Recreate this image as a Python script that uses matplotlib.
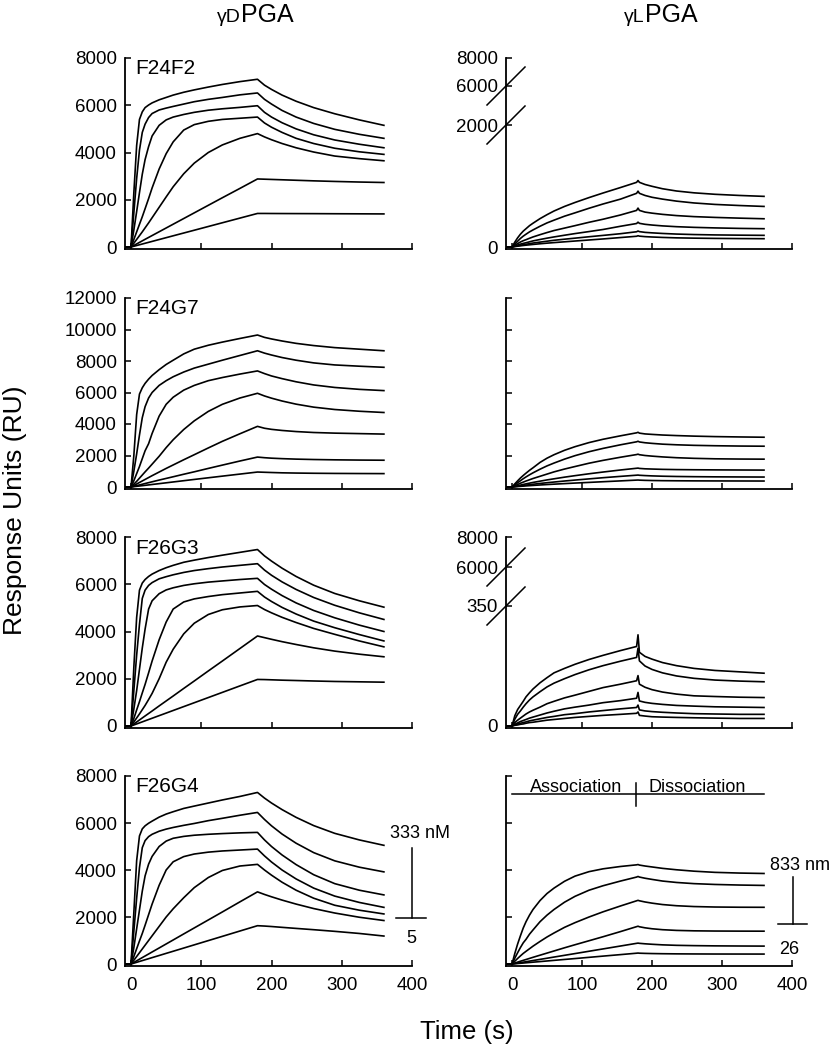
import numpy as np
import matplotlib
matplotlib.use('Agg')
import matplotlib.pyplot as plt

plt.rcParams['font.family'] = ['Liberation Sans', 'DejaVu Sans']

# time points (s)
t_d = [-8, 0, 4, 8, 12, 16, 20, 25, 30, 40, 50, 60, 75, 90, 110, 130, 155, 180,
       190, 200, 215, 235, 260, 290, 325, 360]
t_l = [-8, 0, 4, 8, 12, 16, 20, 25, 30, 40, 50, 60, 75, 90, 110, 130, 155, 178, 180, 182,
       190, 200, 215, 235, 260, 290, 325, 360]

# gamma-D PGA, one list per concentration (RU)
f24f2_d = [
    [0, 0, 2300, 4300, 5400, 5720, 5900, 6010, 6100, 6230, 6330, 6430, 6550, 6650, 6770, 6880, 7000, 7100,
     6850, 6670, 6430, 6170, 5900, 5640, 5380, 5150],
    [0, 0, 1450, 2900, 4100, 4850, 5200, 5480, 5650, 5800, 5880, 5950, 6050, 6150, 6250, 6330, 6440, 6520,
     6250, 6050, 5780, 5500, 5230, 4980, 4770, 4600],
    [0, 0, 720, 1500, 2300, 3080, 3700, 4250, 4700, 5150, 5380, 5500, 5610, 5700, 5790, 5850, 5910, 5980,
     5700, 5500, 5260, 5000, 4750, 4530, 4350, 4200],
    [0, 0, 320, 640, 960, 1280, 1620, 2050, 2500, 3300, 3950, 4450, 4950, 5180, 5320, 5400, 5450, 5500,
     5250, 5070, 4850, 4600, 4380, 4180, 4030, 3920],
    [0, 0, 160, 320, 480, 640, 810, 1020, 1240, 1680, 2120, 2550, 3100, 3550, 4000, 4320, 4600, 4800,
     4660, 4540, 4380, 4200, 4020, 3850, 3740, 3650],
    [0, 0, 65, 130, 195, 260, 325, 405, 485, 645, 805, 965, 1205, 1445, 1765, 2085, 2480, 2880,
     2870, 2860, 2845, 2825, 2800, 2775, 2750, 2730],
    [0, 0, 32, 63, 95, 126, 158, 197, 237, 316, 395, 474, 592, 710, 868, 1026, 1223, 1420,
     1420, 1418, 1416, 1414, 1412, 1408, 1404, 1400],
]
f24g7_d = [
    [0, 0, 2000, 4600, 5900, 6300, 6580, 6850, 7080, 7450, 7780, 8050, 8450, 8750, 9000, 9200, 9430, 9650,
     9500, 9400, 9270, 9120, 8980, 8850, 8750, 8650],
    [0, 0, 1000, 2100, 3300, 4400, 5100, 5650, 6000, 6450, 6750, 7000, 7300, 7550, 7800, 8050, 8350, 8650,
     8500, 8380, 8220, 8050, 7880, 7750, 7670, 7600],
    [0, 0, 400, 850, 1300, 1800, 2300, 2750, 3400, 4500, 5250, 5700, 6150, 6450, 6750, 6950, 7170, 7370,
     7200, 7050, 6880, 6680, 6480, 6320, 6200, 6120],
    [0, 0, 180, 360, 560, 760, 960, 1200, 1450, 1950, 2500, 3000, 3650, 4200, 4800, 5250, 5650, 5950,
     5780, 5640, 5460, 5260, 5070, 4920, 4810, 4730],
    [0, 0, 96, 192, 288, 384, 480, 600, 720, 950, 1180, 1400, 1730, 2050, 2480, 2900, 3380, 3850,
     3730, 3660, 3590, 3520, 3460, 3420, 3390, 3360],
    [0, 0, 44, 88, 130, 175, 220, 275, 330, 440, 545, 650, 810, 965, 1180, 1390, 1650, 1900,
     1860, 1830, 1800, 1770, 1745, 1725, 1710, 1700],
    [0, 0, 21, 43, 64, 85, 106, 133, 160, 213, 266, 320, 400, 480, 585, 690, 820, 950,
     935, 920, 900, 885, 872, 862, 855, 850],
]
f26g3_d = [
    [0, 0, 2500, 4600, 5750, 6050, 6200, 6330, 6430, 6580, 6700, 6800, 6930, 7020, 7130, 7230, 7350, 7470,
     7200, 6980, 6680, 6330, 5960, 5610, 5300, 5030],
    [0, 0, 1500, 3000, 4300, 5400, 5750, 5950, 6070, 6230, 6320, 6400, 6500, 6580, 6660, 6730, 6800, 6870,
     6600, 6380, 6100, 5780, 5440, 5110, 4790, 4510],
    [0, 0, 720, 1500, 2400, 3300, 4100, 4950, 5300, 5600, 5760, 5850, 5950, 6020, 6090, 6140, 6200, 6250,
     5990, 5790, 5520, 5210, 4890, 4580, 4270, 4000],
    [0, 0, 320, 680, 1030, 1400, 1760, 2250, 2750, 3650, 4400, 4950, 5250, 5380, 5480, 5560, 5630, 5700,
     5460, 5270, 5020, 4740, 4440, 4160, 3870, 3600],
    [0, 0, 170, 340, 510, 690, 870, 1120, 1380, 2000, 2700, 3250, 3900, 4350, 4720, 4920, 5040, 5100,
     4930, 4790, 4600, 4380, 4130, 3880, 3600, 3350],
    [0, 0, 85, 170, 255, 340, 425, 530, 635, 850, 1060, 1270, 1590, 1905, 2330, 2750, 3280, 3810,
     3740, 3670, 3570, 3450, 3310, 3170, 3040, 2930],
    [0, 0, 44, 88, 131, 175, 219, 274, 328, 438, 547, 657, 821, 985, 1204, 1423, 1697, 1970,
     1965, 1955, 1940, 1925, 1905, 1885, 1870, 1855],
]
f26g4_d = [
    [0, 0, 2200, 4400, 5450, 5750, 5880, 5990, 6080, 6250, 6380, 6480, 6620, 6720, 6850, 6980, 7130, 7300,
     7060, 6850, 6570, 6240, 5890, 5560, 5280, 5050],
    [0, 0, 1400, 2800, 4100, 4950, 5250, 5420, 5520, 5650, 5740, 5810, 5900, 5980, 6100, 6200, 6330, 6450,
     6150, 5880, 5530, 5140, 4740, 4390, 4120, 3920],
    [0, 0, 700, 1500, 2300, 3100, 3750, 4250, 4580, 5000, 5230, 5350, 5430, 5480, 5520, 5550, 5580, 5600,
     5280, 5000, 4640, 4230, 3800, 3420, 3140, 2940],
    [0, 0, 320, 650, 980, 1300, 1650, 2100, 2550, 3350, 4000, 4350, 4570, 4680, 4760, 4810, 4850, 4890,
     4600, 4340, 4000, 3620, 3230, 2890, 2620, 2410],
    [0, 0, 160, 320, 480, 640, 800, 1000, 1200, 1600, 2000, 2350, 2820, 3250, 3680, 3980, 4170, 4240,
     4000, 3780, 3480, 3140, 2800, 2500, 2290, 2130],
    [0, 0, 68, 136, 205, 273, 341, 426, 512, 682, 853, 1023, 1280, 1535, 1875, 2215, 2645, 3070,
     2960, 2860, 2720, 2550, 2360, 2170, 1990, 1850],
    [0, 0, 36, 72, 109, 145, 181, 226, 272, 362, 453, 543, 679, 815, 996, 1177, 1404, 1630,
     1615, 1595, 1560, 1515, 1460, 1390, 1300, 1190],
]

# gamma-L PGA
f24f2_l = [
    [0, 0, 80, 150, 210, 260, 300, 350, 390, 465, 530, 590, 665, 730, 810, 885, 975, 1060, 1090, 1060,
     1025, 995, 955, 918, 888, 864, 845, 830],
    [0, 0, 50, 95, 140, 178, 210, 248, 280, 340, 395, 440, 505, 560, 635, 705, 785, 880, 916, 880,
     845, 815, 785, 752, 722, 698, 680, 665],
    [0, 0, 28, 56, 82, 103, 120, 143, 165, 202, 237, 270, 310, 350, 405, 455, 525, 600, 638, 600,
     572, 555, 535, 515, 498, 485, 473, 463],
    [0, 0, 16, 32, 47, 59, 70, 85, 100, 123, 145, 165, 193, 220, 253, 287, 340, 385, 407, 388,
     372, 360, 346, 333, 322, 313, 305, 300],
    [0, 0, 10, 20, 29, 37, 45, 55, 65, 80, 95, 110, 128, 145, 168, 190, 218, 250, 262, 252,
     240, 232, 222, 212, 204, 198, 194, 191],
    [0, 0, 7, 13, 19, 25, 30, 36, 42, 53, 63, 72, 85, 98, 115, 132, 155, 176, 185, 178,
     170, 164, 157, 150, 145, 141, 138, 136],
]
f24g7_l = [
    [0, 0, 200, 390, 570, 730, 880, 1060, 1220, 1560, 1830, 2050, 2330, 2560, 2820, 3030, 3250, 3440, 3474, 3420,
     3370, 3340, 3300, 3265, 3230, 3200, 3178, 3160],
    [0, 0, 135, 270, 400, 525, 640, 775, 900, 1130, 1340, 1520, 1770, 1990, 2240, 2450, 2680, 2870, 2905, 2860,
     2810, 2770, 2720, 2680, 2645, 2620, 2600, 2590],
    [0, 0, 80, 160, 240, 310, 380, 460, 540, 680, 820, 960, 1140, 1300, 1510, 1690, 1890, 2060, 2084, 2050,
     2000, 1960, 1910, 1860, 1820, 1790, 1775, 1768],
    [0, 0, 40, 80, 120, 160, 200, 245, 290, 370, 450, 520, 625, 720, 840, 950, 1080, 1190, 1200, 1180,
     1155, 1140, 1120, 1105, 1095, 1087, 1080, 1074],
    [0, 0, 24, 48, 72, 96, 120, 148, 175, 225, 272, 315, 380, 440, 515, 590, 675, 750, 758, 745,
     725, 705, 685, 668, 655, 645, 638, 632],
    [0, 0, 14, 28, 42, 56, 70, 85, 100, 128, 155, 180, 215, 250, 292, 335, 388, 438, 442, 435,
     422, 412, 402, 395, 389, 385, 382, 379],
]
f26g3_l = [
    [0, 0, 30, 48, 60, 72, 85, 97, 108, 126, 141, 155, 168, 180, 194, 206, 220, 232, 266, 215,
     203, 195, 185, 176, 168, 162, 158, 154],
    [0, 0, 20, 34, 44, 55, 65, 76, 85, 100, 114, 125, 138, 150, 164, 176, 189, 200, 227, 190,
     175, 165, 155, 146, 139, 134, 131, 129],
    [0, 0, 10, 17, 23, 29, 35, 41, 46, 55, 65, 72, 82, 90, 101, 112, 122, 132, 147, 122,
     113, 106, 99, 93, 88, 86, 84, 83],
    [0, 0, 5, 9, 13, 16, 19, 23, 26, 32, 38, 43, 50, 55, 61, 68, 74, 81, 98, 73,
     69, 66, 63, 60, 58, 56, 55, 54],
    [0, 0, 3, 6, 8, 10, 12, 15, 17, 21, 25, 28, 33, 36, 41, 45, 50, 54, 61, 47,
     44, 42, 40, 38, 36, 35, 34, 34],
    [0, 0, 2, 3, 5, 6, 8, 10, 11, 14, 17, 19, 22, 25, 28, 31, 34, 37, 41, 31,
     29, 27, 26, 25, 24, 23, 22, 22],
]
f26g4_l = [
    [0, 0, 450, 850, 1200, 1530, 1800, 2080, 2320, 2700, 3000, 3230, 3520, 3740, 3930, 4050, 4150, 4220, 4233, 4210,
     4170, 4130, 4070, 4010, 3950, 3900, 3870, 3852],
    [0, 0, 250, 480, 700, 900, 1050, 1270, 1450, 1800, 2080, 2320, 2630, 2880, 3140, 3330, 3530, 3700, 3725, 3700,
     3650, 3600, 3530, 3470, 3420, 3385, 3360, 3344],
    [0, 0, 120, 235, 345, 450, 540, 650, 760, 960, 1150, 1320, 1560, 1760, 2000, 2220, 2470, 2690, 2709, 2690,
     2640, 2590, 2530, 2480, 2445, 2425, 2416, 2413],
    [0, 0, 40, 80, 118, 155, 192, 238, 285, 375, 465, 555, 690, 820, 990, 1160, 1380, 1590, 1608, 1585,
     1540, 1500, 1460, 1430, 1412, 1403, 1399, 1397],
    [0, 0, 20, 40, 59, 79, 98, 123, 148, 197, 246, 296, 370, 444, 543, 642, 766, 880, 889, 880,
     860, 840, 815, 795, 782, 772, 766, 762],
    [0, 0, 10, 21, 31, 41, 52, 65, 78, 103, 129, 155, 194, 232, 284, 336, 400, 460, 466, 460,
     452, 445, 438, 432, 428, 425, 424, 423],
]

names = ['F24F2', 'F24G7', 'F26G3', 'F26G4']
d_sets = [f24f2_d, f24g7_d, f26g3_d, f26g4_d]
l_sets = [f24f2_l, f24g7_l, f26g3_l, f26g4_l]
d_tops = [8000, 12000, 8000, 8000]

W, H = 830, 1050
row_px = [(58, 249), (298, 489), (537, 728), (776, 966)]
col_px = [(125, 412), (506, 792)]
LW = 1.2


def add_ax(col, row):
    l, r = col_px[col]
    t, b = row_px[row]
    return fig.add_axes([l / W, 1 - b / H, (r - l) / W, (b - t) / H])


def style(ax, bottom_labels):
    for s in ['top', 'right']:
        ax.spines[s].set_visible(False)
    for s in ['left', 'bottom']:
        ax.spines[s].set_linewidth(1.3)
    ax.set_xlim(-8.6, 400)
    ax.set_xticks([0, 100, 200, 300, 400])
    ax.tick_params(direction='in', length=4, width=1.1, labelsize=13.5)
    ax.tick_params(axis='x', pad=8, labelbottom=bottom_labels)
    ax.tick_params(axis='y', pad=6)


def broken_scale(low, low_px, gap_px, up_px, b2=6000, top=8000):
    gap = gap_px / low_px * low
    up = up_px / low_px * low

    def fwd(y):
        y = np.asarray(y, dtype=float)
        mid = low + (y - low) * gap / (b2 - low)
        hi = low + gap + (y - b2) * up / (top - b2)
        return np.where(y <= low, y, np.where(y <= b2, mid, hi))

    def inv(v):
        v = np.asarray(v, dtype=float)
        mid = low + (v - low) * (b2 - low) / gap
        hi = b2 + (v - low - gap) * (top - b2) / up
        return np.where(v <= low, v, np.where(v <= low + gap, mid, hi))

    return fwd, inv


def draw_slash(ax, yb):
    yc = ax.transAxes.inverted().transform(ax.transData.transform((0, yb)))[1]
    w = ax.get_position().width * W
    h = ax.get_position().height * H
    dx, dy = 19 / w, 19 / h
    ax.plot([-dx, dx], [yc - dy, yc + dy], color='black', lw=1.1,
            transform=ax.transAxes, clip_on=False)


fig = plt.figure(figsize=(8.3, 10.5), dpi=100)
d_axes = []

for i in range(4):
    last = i == 3
    # left column: gamma-D PGA
    ax = add_ax(0, i)
    d_axes.append(ax)
    for y in d_sets[i]:
        ax.plot(t_d, y, color='black', lw=LW)
    style(ax, last)
    top = d_tops[i]
    ax.set_ylim(-2 / 189 * top, top)
    ax.set_yticks(np.arange(0, top + 1, 2000))
    ax.text(0.035, 1 - 11 / 191, names[i], transform=ax.transAxes,
            va='center', ha='left', fontsize=15)

    # right column: gamma-L PGA
    ax = add_ax(1, i)
    for y in l_sets[i]:
        ax.plot(t_l, y, color='black', lw=LW)
    style(ax, last)
    if i in (0, 2):
        low = 2000 if i == 0 else 350
        low_px, gap_px, up_px = (122, 39, 28) if i == 0 else (120, 39, 30)
        ax.set_yscale('function', functions=broken_scale(low, low_px, gap_px, up_px))
        ax.set_ylim(-2 / low_px * low, 8000)
        ax.set_yticks([0, low, 6000, 8000])
        ax.set_yticklabels(['0', str(low), '6000', '8000'])
        ax.yaxis.set_minor_locator(matplotlib.ticker.NullLocator())
        draw_slash(ax, low)
        draw_slash(ax, 6000)
    else:
        top = 12000 if i == 1 else 8000
        ax.set_ylim(-2 / 189 * top, top)
        ax.set_yticks(np.arange(0, top + 1, 2000))
        ax.tick_params(axis='y', labelleft=False)

    if last:
        # association / dissociation marker
        ax.plot([0, 360], [7238, 7238], color='black', lw=1.1)
        ax.plot([177, 177], [6730, 7704], color='black', lw=1.1)
        ax.text(91, 7330, 'Association', ha='center', va='baseline', fontsize=13)
        ax.text(264, 7330, 'Dissociation', ha='center', va='baseline', fontsize=13)
        # concentration range
        ax.text(369, 4190, '833 nm', ha='left', va='center', fontsize=13)
        ax.plot([401, 401], [1693, 3683], color='black', lw=1.1, clip_on=False)
        ax.plot([380, 421], [1693, 1693], color='black', lw=1.1, clip_on=False)
        ax.text(396, 635, '26', ha='center', va='center', fontsize=13)

# concentration range on the gamma-D side
ax_d4 = d_axes[3]
ax_d4.text(369, 5545, '333 nM', ha='left', va='center', fontsize=13)
ax_d4.plot([400, 400], [1947, 4952], color='black', lw=1.1, clip_on=False)
ax_d4.plot([377, 420], [1947, 1947], color='black', lw=1.1, clip_on=False)
ax_d4.text(399, 1100, '5', ha='center', va='center', fontsize=13)

# column titles
fig.text(240.5 / W, 1 - 21.7 / H, 'γD', ha='right', va='baseline', fontsize=14)
fig.text(240.5 / W, 1 - 21.7 / H, 'PGA', ha='left', va='baseline', fontsize=18)
fig.text(645 / W, 1 - 21.7 / H, 'γL', ha='right', va='baseline', fontsize=14)
fig.text(645 / W, 1 - 21.7 / H, 'PGA', ha='left', va='baseline', fontsize=18)

fig.text(15 / W, 1 - 510 / H, 'Response Units (RU)', rotation=90,
         ha='center', va='center', fontsize=19)
fig.text(467 / W, 1 - 1032 / H, 'Time (s)', ha='center', va='center', fontsize=18.5)

fig.savefig('out.png', dpi=100)
